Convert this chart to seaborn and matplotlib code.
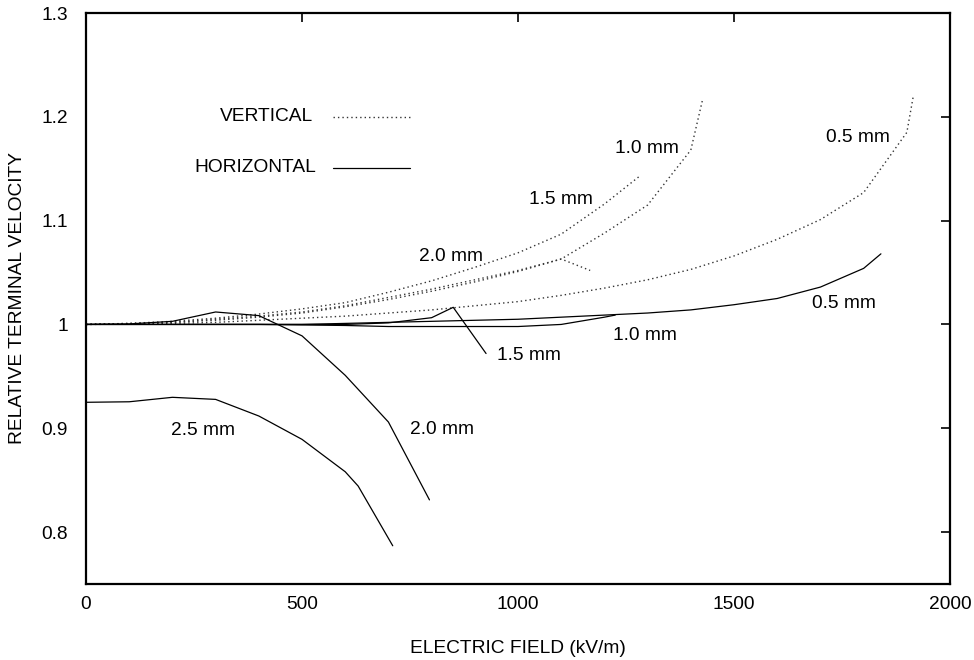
import matplotlib
matplotlib.use('Agg')
import matplotlib.pyplot as plt
import seaborn as sns
import pandas as pd

# vertical orientation (dotted)
v05_x = [0, 100, 200, 300, 400, 500, 600, 700, 800, 900, 1000, 1100, 1200, 1300, 1400, 1500, 1600, 1700, 1800, 1900, 1915]
v05_y = [1.0, 1.0003, 1.001, 1.002, 1.004, 1.006, 1.008, 1.011, 1.014, 1.018, 1.022, 1.028, 1.035, 1.043, 1.053, 1.066, 1.082, 1.101, 1.127, 1.185, 1.22]
v10_x = [0, 100, 200, 300, 400, 500, 600, 700, 800, 900, 1000, 1100, 1200, 1300, 1400, 1428]
v10_y = [1.0, 1.0005, 1.002, 1.004, 1.007, 1.011, 1.017, 1.024, 1.032, 1.041, 1.051, 1.063, 1.088, 1.115, 1.168, 1.218]
v15_x = [0, 100, 200, 300, 400, 500, 600, 700, 800, 900, 1000, 1100, 1200, 1282]
v15_y = [1.0, 1.001, 1.003, 1.006, 1.010, 1.015, 1.021, 1.031, 1.042, 1.055, 1.069, 1.087, 1.116, 1.143]
v20_x = [0, 100, 200, 300, 400, 500, 600, 700, 800, 900, 1000, 1100, 1167]
v20_y = [1.0, 1.001, 1.002, 1.005, 1.008, 1.012, 1.018, 1.026, 1.034, 1.043, 1.052, 1.063, 1.052]

# horizontal orientation (solid)
h05_x = [0, 500, 600, 700, 800, 900, 1000, 1100, 1200, 1300, 1400, 1500, 1600, 1700, 1800, 1840]
h05_y = [1.0, 1.0, 1.001, 1.002, 1.003, 1.004, 1.005, 1.007, 1.009, 1.011, 1.014, 1.019, 1.025, 1.036, 1.054, 1.068]
h10_x = [0, 400, 500, 600, 700, 800, 900, 1000, 1100, 1200, 1225]
h10_y = [1.0, 1.0, 0.9995, 0.999, 0.998, 0.998, 0.998, 0.998, 1.0, 1.007, 1.009]
h15_x = [0, 600, 700, 800, 850, 926]
h15_y = [1.0, 1.0, 1.0015, 1.0065, 1.0165, 0.972]
h20_x = [0, 100, 200, 300, 400, 500, 600, 700, 795]
h20_y = [1.0, 1.0005, 1.003, 1.012, 1.0085, 0.989, 0.951, 0.906, 0.831]
h25_x = [0, 100, 200, 300, 400, 500, 600, 630, 710]
h25_y = [0.925, 0.9255, 0.9298, 0.9278, 0.9118, 0.8893, 0.8581, 0.8443, 0.7868]

vert_labels = ['0.5 mm', '1.0 mm', '1.5 mm', '2.0 mm']
vert_lab_x = [1787, 1299, 1100, 845]
vert_lab_y = [1.1805, 1.169, 1.12, 1.065]
hor_labels = ['0.5 mm', '1.0 mm', '1.5 mm', '2.0 mm', '2.5 mm']
hor_lab_x = [1755, 1294, 1025, 824, 271]
hor_lab_y = [1.0206, 0.9898, 0.9705, 0.8992, 0.8983]

FS = 13.8

sns.set_theme(style='white')
plt.rcParams['font.family'] = ['Liberation Sans', 'DejaVu Sans']
plt.rcParams['font.size'] = FS
plt.rcParams['text.color'] = 'black'
plt.rcParams['axes.labelcolor'] = 'black'
plt.rcParams['xtick.color'] = 'black'
plt.rcParams['ytick.color'] = 'black'

fig = plt.figure(figsize=(9.74, 6.6), dpi=100)
ax = fig.add_axes([0.0883, 0.1152, 0.8871, 0.8651])

dotted = (0, (1, 2.2))
for xs, ys in [(v05_x, v05_y), (v10_x, v10_y), (v15_x, v15_y), (v20_x, v20_y)]:
    sns.lineplot(x=xs, y=ys, ax=ax, color='#333333', lw=1.0, linestyle=dotted,
                 sort=False, estimator=None)
for xs, ys in [(h05_x, h05_y), (h10_x, h10_y), (h15_x, h15_y), (h20_x, h20_y), (h25_x, h25_y)]:
    sns.lineplot(x=xs, y=ys, ax=ax, color='black', lw=0.9, sort=False, estimator=None)

for t, x, y in zip(vert_labels, vert_lab_x, vert_lab_y):
    ax.text(x, y, t, ha='center', va='center', fontsize=FS)
for t, x, y in zip(hor_labels, hor_lab_x, hor_lab_y):
    ax.text(x, y, t, ha='center', va='center', fontsize=FS)

# key
ax.text(525, 1.2, 'VERTICAL', ha='right', va='center', fontsize=FS)
ax.plot([572, 750], [1.2, 1.2], color='#333333', lw=1.0, linestyle=dotted)
ax.text(532, 1.1507, 'HORIZONTAL', ha='right', va='center', fontsize=FS)
ax.plot([572, 750], [1.1507, 1.1507], color='black', lw=0.9)

ax.set_xlim(0, 2000)
ax.set_ylim(0.75, 1.3)
ax.set_xticks([0, 500, 1000, 1500, 2000])
ax.set_yticks([0.8, 0.9, 1.0, 1.1, 1.2, 1.3])
ax.set_yticklabels(['0.8', '0.9', '1', '1.1', '1.2', '1.3'])
ax.tick_params(direction='in', length=6.5, width=1.2, top=True, right=True,
               labelsize=FS, color='black', pad=9)
ax.tick_params(axis='y', pad=13)
for s in ax.spines.values():
    s.set_linewidth(1.6)
    s.set_color('black')
ax.set_xlabel('ELECTRIC FIELD (kV/m)', fontsize=FS, labelpad=19)
ax.set_ylabel('RELATIVE TERMINAL VELOCITY', fontsize=FS, labelpad=11)

plt.savefig('out.png', dpi=100)
plt.close()
